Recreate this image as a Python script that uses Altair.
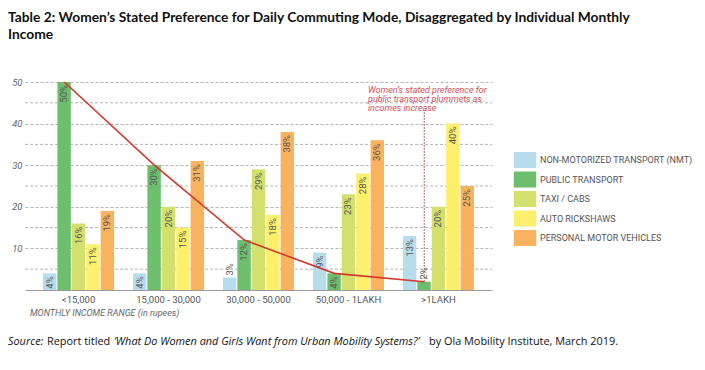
import altair as alt
import pandas as pd

incomes = ["<15,000", "15,000 - 30,000", "30,000 - 50,000", "50,000 - 1LAKH", ">1LAKH"]
modes = ["NON-MOTORIZED TRANSPORT (NMT)", "PUBLIC TRANSPORT", "TAXI / CABS",
         "AUTO RICKSHAWS", "PERSONAL MOTOR VEHICLES"]
nmt = [4, 4, 3, 9, 13]
public_transport = [50, 30, 12, 4, 2]
taxi = [16, 20, 29, 23, 20]
auto = [11, 15, 18, 28, 40]
personal = [19, 31, 38, 36, 25]
colors = ["#B7DDEC", "#6DBE6D", "#D4E06E", "#FCEF6B", "#F9B25E"]
y_labels = [10, 20, 30, 40, 50]
y_minor = [5, 15, 25, 35, 45]

title_lines = ["Table 2: Women\u2019s Stated Preference for Daily Commuting Mode, Disaggregated by Individual Monthly",
               "Income"]
note_lines = ["Women\u2019s stated preference for", "public transport plummets as", "incomes increase"]
x_title = "MONTHLY INCOME RANGE (in rupees)"
source_parts = ["Source:", "Report titled",
                "\u2018What Do Women and Girls Want from Urban Mobility Systems?\u2019",
                "by Ola Mobility Institute, March 2019."]

series = [nmt, public_transport, taxi, auto, personal]
rows = []
for m, vals in zip(modes, series):
    for inc, v in zip(incomes, vals):
        rows.append({"income": inc, "mode": m, "value": v, "label": f"{v}%"})
df = pd.DataFrame(rows)
minor_df = pd.DataFrame({"value": y_minor})

x_enc = alt.X("income:N", sort=incomes,
              scale=alt.Scale(domain=incomes, paddingInner=0.21, paddingOuter=0.2),
              axis=alt.Axis(title=None, labelAngle=0, ticks=False, domainColor="#9a9a9a",
                            labelFont="Roboto", labelFontSize=9.5, labelColor="#555555",
                            labelPadding=4))
y_enc = alt.Y("value:Q", scale=alt.Scale(domain=[0, 50], nice=False),
              axis=alt.Axis(title=None, values=y_labels, labelOverlap=False,
                            grid=True, gridDash=[3, 2], gridColor="#b5b5b5",
                            domain=False, ticks=False, labelFont="Roboto",
                            labelFontStyle="italic", labelFontSize=9.5,
                            labelColor="#666666", labelPadding=3))
xoff = alt.XOffset("mode:N", sort=modes,
                   scale=alt.Scale(domain=modes, paddingInner=0.07, paddingOuter=0))

minor_grid = alt.Chart(minor_df).mark_rule(
    color="#b5b5b5", strokeDash=[3, 2], strokeWidth=1
).encode(y="value:Q", x=alt.value(0), x2=alt.value(467))

bars = alt.Chart(df).mark_bar().encode(
    x=x_enc, xOffset=xoff, y=y_enc,
    color=alt.Color("mode:N", sort=modes, scale=alt.Scale(domain=modes, range=colors),
                    legend=alt.Legend(title=None, orient="none", legendX=492, legendY=70,
                                      symbolType="M-1.4,-1H1.4V1H-1.4Z", symbolSize=256,
                                      symbolStrokeWidth=0, symbolOpacity=1,
                                      labelFont="Roboto", labelFontSize=9,
                                      labelColor="#555555", labelOffset=7,
                                      rowPadding=3.5, padding=0))
)

labels_in = alt.Chart(df).transform_filter("datum.value >= 4").mark_text(
    angle=270, align="right", baseline="middle", dx=-3, font="Roboto", fontSize=9.5,
    color="#555555"
).encode(x=alt.X("income:N", sort=incomes), xOffset=xoff, y="value:Q", text="label:N")

labels_out = alt.Chart(df).transform_filter("datum.value < 4").mark_text(
    angle=270, align="left", baseline="middle", dx=2, font="Roboto", fontSize=9.5,
    color="#555555"
).encode(x=alt.X("income:N", sort=incomes), xOffset=xoff, y="value:Q", text="label:N")

trend = alt.Chart(df).transform_filter(
    alt.datum.mode == "PUBLIC TRANSPORT"
).mark_line(color="#D3392C", strokeWidth=1.6).encode(
    x=alt.X("income:N", sort=incomes, bandPosition=0.3), y="value:Q"
)

pointer = alt.Chart(df).transform_filter(
    (alt.datum.mode == "PUBLIC TRANSPORT") & (alt.datum.income == ">1LAKH")
).mark_rule(color="#8B3A3A", strokeDash=[1.5, 1.5], strokeWidth=1).encode(
    x=alt.X("income:N", sort=incomes, bandPosition=0.3), y="value:Q", y2=alt.value(30)
)

one = alt.Data(values=[{}])

note = alt.Chart(one).mark_text(
    text=note_lines, align="left", baseline="top", font="Roboto", fontStyle="italic",
    fontSize=9, lineHeight=9.2, color="#D0505A"
).encode(x=alt.value(343), y=alt.value(4))

xtitle = alt.Chart(one).mark_text(
    text=x_title, align="left", baseline="middle", font="Roboto", fontStyle="italic",
    fontSize=9, color="#666666"
).encode(x=alt.value(5), y=alt.value(231))

title = alt.Chart(one).mark_text(
    text=title_lines, align="left", baseline="alphabetic", font="Lato", fontWeight="bold",
    fontSize=13.8, lineHeight=17, color="#111111"
).encode(x=alt.value(-17), y=alt.value(-60))

src_x = [-17, 22, 89, 404]
src_style = ["italic", "normal", "italic", "normal"]
source_layers = [
    alt.Chart(one).mark_text(
        text=t, align="left", baseline="alphabetic", font="Open Sans", fontStyle=s,
        fontSize=10.9, color="#111111"
    ).encode(x=alt.value(px), y=alt.value(263))
    for t, s, px in zip(source_parts, src_style, src_x)
]

chart = alt.layer(
    minor_grid, bars, trend, pointer, labels_in, labels_out, note, xtitle, title, *source_layers
).properties(
    width=467, height=208,
    padding={"left": 17, "top": 74, "right": 205, "bottom": 72},
    autosize=alt.AutoSizeParams(type="none")
).configure_view(stroke=None)

chart.save("out.html", embed_options={"renderer": "svg", "actions": False})
